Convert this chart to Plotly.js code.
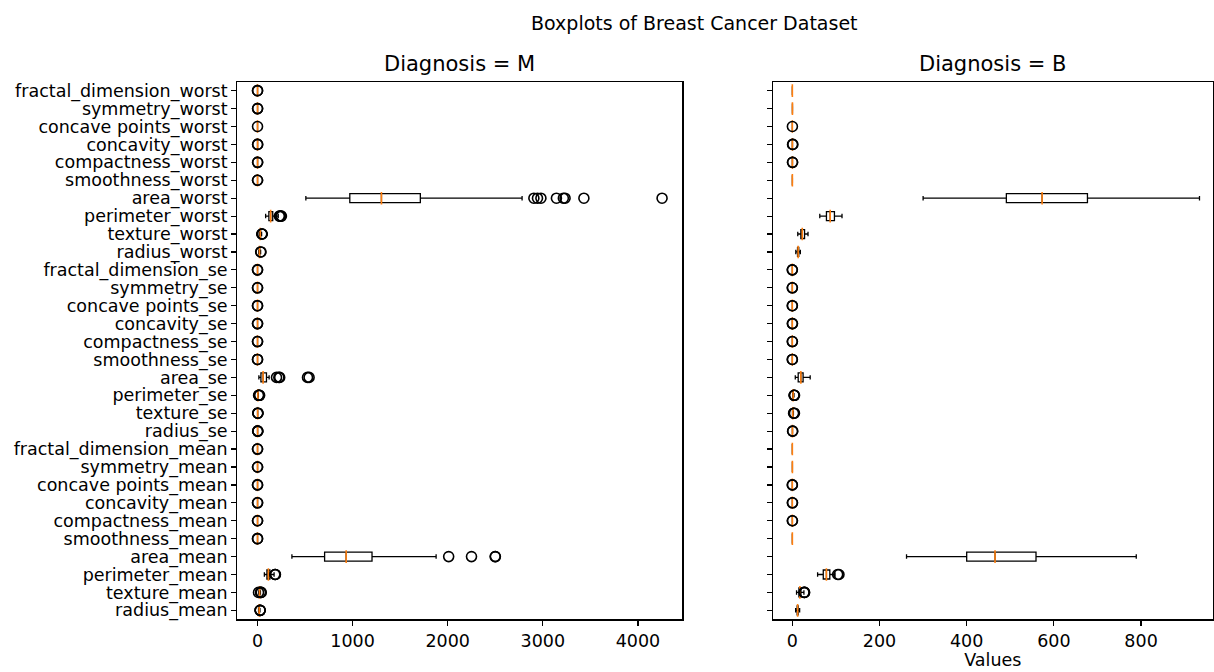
<!DOCTYPE html>
<html>
<head>
<meta charset="utf-8">
<script src="https://cdn.plot.ly/plotly-3.0.1.min.js"></script>
<style>html,body{margin:0;padding:0;background:#fff;}#chart{width:1214px;height:672px;}</style>
</head>
<body>
<div id="chart"></div>
<script>
// Feature categories (bottom to top)
const features = ['radius_mean','texture_mean','perimeter_mean','area_mean','smoothness_mean','compactness_mean','concavity_mean','concave points_mean','symmetry_mean','fractal_dimension_mean','radius_se','texture_se','perimeter_se','area_se','smoothness_se','compactness_se','concavity_se','concave points_se','symmetry_se','fractal_dimension_se','radius_worst','texture_worst','perimeter_worst','area_worst','smoothness_worst','compactness_worst','concavity_worst','concave points_worst','symmetry_worst','fractal_dimension_worst'];

// Diagnosis = M box statistics
const mLow = [10.95,12.87,71.9,361.6,0.07371,0.04605,0.02398,0.02031,0.1308,0.04996,0.1938,0.3621,1.334,13.99,0.002667,0.008422,0.01101,0.005174,0.007882,0.001087,12.84,16.67,85.1,508.1,0.08822,0.05131,0.02398,0.06575,0.1565,0.05504];
const mQ1 = [15.08,19.33,98.75,705.3,0.09401,0.1096,0.1095,0.06462,0.1741,0.05666,0.4098,0.8575,2.693,35.76,0.005174,0.02052,0.02863,0.01188,0.01522,0.002887,17.73,25.78,119.3,970.3,0.1309,0.2447,0.3265,0.1528,0.2765,0.07625];
const mMed = [17.33,21.46,114.2,932,0.1022,0.1324,0.1513,0.08628,0.1899,0.06158,0.5472,1.102,3.68,58.46,0.006209,0.0287,0.03709,0.0142,0.0177,0.003739,20.59,28.95,138.0,1303,0.1434,0.3564,0.4049,0.182,0.3103,0.08701];
const mQ3 = [19.59,23.77,129.9,1204,0.11,0.1722,0.2032,0.103,0.2098,0.06785,0.7573,1.414,5.158,94.0,0.007842,0.0432,0.05339,0.01883,0.02265,0.004892,23.81,32.69,159.8,1712,0.1556,0.4478,0.5561,0.2109,0.3596,0.1031];
const mHigh = [25.73,30.72,174.2,1878,0.1326,0.2665,0.3339,0.1604,0.2597,0.08243,1.27,2.222,8.83,122,0.01172,0.07643,0.08958,0.02794,0.03325,0.007885,32.49,42.79,218,2782,0.1919,0.7444,0.8488,0.291,0.4761,0.1402];
const mOut = [[27.22,28.11,27.42],[10.38,32.47,33.56,39.28],[182.1,186.9,188.5],[2010,2250,2499,2501],[0.1447,0.1371],[0.2839,0.3454],[0.3754,0.4268],[0.1845,0.2012],[0.2906,0.304],[0.09744,0.0898],[2.873,1.509,2.547],[4.885,2.91,3.12],[21.98,18.65,11.07,13.28],[199.7,224.1,233,525.6,542.2],[0.03113,0.01582],[0.1354,0.1064],[0.1438,0.1278],[0.0409,0.03927],[0.07895,0.05963],[0.01284,0.02984],[33.12,36.04],[44.87,49.54,47.16],[229.3,237,244,251.2],[2906,2944,2980,3143,3216,3234,3432,4254],[0.2226,0.2098],[1.058,0.8663],[1.252,0.9387],[0.0291],[0.6638,0.544],[0.2075,0.173]];

// Diagnosis = B box statistics
const bLow = [7.7,9.7,58,262,0.066,0.019,0,0,0.117,0.051,0.11,0.36,0.76,6.8,0.0017,0.0021,0,0,0.0095,0.0009,8,12.5,63,300,0.081,0.034,0,0,0.157,0.055];
const bQ1 = [11.08,15.15,71,400,0.081,0.056,0.021,0.015,0.158,0.059,0.18,0.89,1.44,13.5,0.0054,0.0117,0.0102,0.0075,0.0158,0.0022,11.98,19.58,78.3,491,0.111,0.112,0.078,0.051,0.241,0.071];
const bMed = [12.2,17.39,78.2,465,0.091,0.075,0.037,0.023,0.171,0.062,0.26,1.11,1.85,19.6,0.0066,0.0166,0.0184,0.0101,0.0191,0.0029,13.35,22.82,86.9,573,0.125,0.17,0.141,0.074,0.269,0.077];
const bQ3 = [13.37,19.76,86,559,0.098,0.098,0.06,0.032,0.189,0.066,0.34,1.55,2.39,24.7,0.0083,0.0249,0.0296,0.0127,0.0235,0.0039,14.8,28.06,96.6,677,0.138,0.231,0.222,0.097,0.299,0.085];
const bHigh = [16.8,26.6,98,789,0.122,0.16,0.118,0.058,0.236,0.076,0.56,2.5,3.8,41,0.0126,0.0447,0.058,0.0203,0.0347,0.0064,18.5,36,114,934,0.177,0.41,0.43,0.154,0.385,0.105];
const bOut = [[],[26.9,27.8,28.2],[104,107],[],[],[0.18,0.22],[0.15,0.41],[0.064,0.085],[],[],[0.6,0.88],[2.9,3.6,4.9],[4.0,4.4,5.1],[],[0.0142,0.0238],[0.05,0.106],[0.07,0.396],[0.024,0.0528],[0.04,0.061],[0.0084,0.0299],[],[],[],[],[],[0.45,0.58],[0.49,1.25],[0.175],[],[]];

const xTicksM = [0,1000,2000,3000,4000];
const xTicksB = [0,200,400,600,800];

function boxTraces(lo,q1,med,q3,hi,out,xa,ya){
  const ox=[], oy=[];
  out.forEach((arr,i)=>arr.forEach(v=>{ox.push(v); oy.push(features[i]);}));
  return [
    {type:'box', orientation:'h', y:features, q1:q1, median:med, q3:q3, lowerfence:lo, upperfence:hi,
     boxpoints:false, width:0.5, whiskerwidth:0.5, fillcolor:'rgba(0,0,0,0)',
     line:{color:'#000', width:1.3}, xaxis:xa, yaxis:ya, hoverinfo:'skip'},
    {type:'scatter', mode:'markers', x:med, y:features, xaxis:xa, yaxis:ya, hoverinfo:'skip',
     marker:{symbol:'line-ns', size:9, line:{color:'#ff7f0e', width:1.6}}},
    {type:'scatter', mode:'markers', x:ox, y:oy, xaxis:xa, yaxis:ya, hoverinfo:'skip',
     marker:{symbol:'circle-open', size:10, color:'#000', line:{color:'#000', width:1.6}}}
  ];
}

const data = [].concat(
  boxTraces(mLow,mQ1,mMed,mQ3,mHigh,mOut,'x','y'),
  boxTraces(bLow,bQ1,bMed,bQ3,bHigh,bOut,'x2','y2')
);

const axBase = {showline:true, linecolor:'#000', linewidth:1.2, mirror:true, showgrid:false, zeroline:false,
  ticks:'outside', ticklen:5, tickwidth:1.2, tickcolor:'#000', tickfont:{size:17.5, color:'#000'}};
const yDomain = [1-619.3/672, 1-81.7/672];

const layout = {
  width:1214, height:672, margin:{l:0,r:0,t:0,b:0},
  paper_bgcolor:'#fff', plot_bgcolor:'#fff', showlegend:false,
  font:{family:'DejaVu Sans', color:'#000'},
  xaxis: Object.assign({}, axBase, {domain:[237.3/1214, 682.3/1214], range:[-212.7,4466.7], tickmode:'array', tickvals:xTicksM, anchor:'y'}),
  yaxis: Object.assign({}, axBase, {domain:yDomain, type:'category', categoryorder:'array', categoryarray:features, tickmode:'array', tickvals:features, ticktext:features, range:[-0.5,29.5], anchor:'x'}),
  xaxis2: Object.assign({}, axBase, {domain:[772.7/1214, 1213/1214], range:[-45,965], tickmode:'array', tickvals:xTicksB, anchor:'y2',
    title:{text:'Values', font:{size:17.5, color:'#000'}, standoff:2}}),
  yaxis2: Object.assign({}, axBase, {domain:yDomain, type:'category', categoryorder:'array', categoryarray:features, tickmode:'array', tickvals:features, range:[-0.5,29.5], showticklabels:false, anchor:'x2'}),
  annotations:[
    {text:'Boxplots of Breast Cancer Dataset', xref:'paper', yref:'paper', x:694.5/1214, y:1-23/672, xanchor:'center', yanchor:'middle', showarrow:false, font:{size:19, color:'#000'}},
    {text:'Diagnosis = M', xref:'paper', yref:'paper', x:459.8/1214, y:1-64/672, xanchor:'center', yanchor:'middle', showarrow:false, font:{size:21, color:'#000'}},
    {text:'Diagnosis = B', xref:'paper', yref:'paper', x:992.9/1214, y:1-64/672, xanchor:'center', yanchor:'middle', showarrow:false, font:{size:21, color:'#000'}}
  ]
};

Plotly.newPlot('chart', data, layout, {staticPlot:true, displayModeBar:false});
</script>
</body>
</html>
